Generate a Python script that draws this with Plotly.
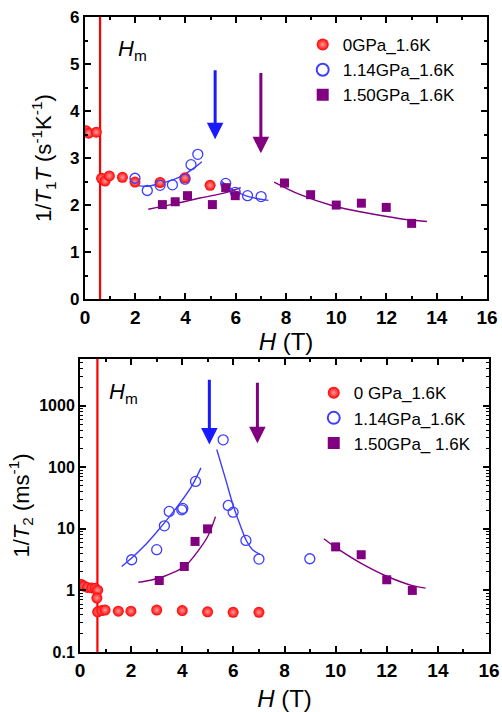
import numpy as np
import plotly.graph_objects as go

# ---------------- data: top panel (1/T1T) ----------------
H_T1_0 = [0.05, 0.15, 0.45, 0.66, 0.80, 0.97, 1.49, 1.99, 2.99, 3.98, 4.98]
V_T1_0 = [3.58, 3.53, 3.55, 2.57, 2.51, 2.62, 2.59, 2.49, 2.48, 2.58, 2.42]

H_T1_114 = [1.99, 2.48, 2.99, 3.48, 3.98, 4.22, 4.49, 5.60, 5.98, 6.47, 7.01]
V_T1_114 = [2.57, 2.31, 2.42, 2.43, 2.55, 2.86, 3.08, 2.46, 2.27, 2.20, 2.18]

H_T1_150 = [3.08, 3.59, 4.08, 5.07, 5.60, 5.98, 7.94, 8.98, 10.0, 11.0, 11.99, 13.0]
V_T1_150 = [2.01, 2.07, 2.20, 2.01, 2.37, 2.20, 2.47, 2.22, 2.00, 2.04, 1.95, 1.61]

FIT_T1_114A_H = [2.06, 2.46, 2.99, 3.52, 3.98, 4.32, 4.65]
FIT_T1_114A_V = [2.42, 2.40, 2.46, 2.54, 2.66, 2.78, 2.92]
FIT_T1_114B_H = [5.42, 5.91, 6.44, 7.30]
FIT_T1_114B_V = [2.51, 2.32, 2.19, 2.10]
FIT_T1_150A_H = [2.52, 3.52, 4.58, 5.64, 6.20]
FIT_T1_150A_V = [1.91, 2.02, 2.15, 2.27, 2.37]
FIT_T1_150B_H = [7.53, 8.57, 9.89, 11.22, 12.55, 13.61]
FIT_T1_150B_V = [2.49, 2.22, 1.98, 1.83, 1.71, 1.65]

HM_TOP = 0.60
ARROW_TOP_BLUE = (5.18, 4.90, 3.40)    # H, tail value, head value
ARROW_TOP_PURPLE = (7.00, 4.84, 3.10)

# ---------------- data: bottom panel (1/T2) ----------------
H_T2_0 = [0.05, 0.15, 0.29, 0.46, 0.59, 0.69, 0.66, 0.69, 0.85, 0.98, 1.50, 1.99, 3.0, 4.0, 4.99, 5.99, 7.0]
V_T2_0 = [1.25, 1.18, 1.12, 1.10, 1.08, 1.01, 0.75, 0.45, 0.47, 0.48, 0.46, 0.46, 0.48, 0.47, 0.45, 0.44, 0.44]

H_T2_114 = [2.02, 3.0, 3.3, 3.49, 3.98, 4.02, 4.52, 5.6, 5.8, 5.99, 6.49, 7.0, 8.99]
V_T2_114 = [3.15, 4.6, 11.2, 19.2, 20.4, 21.5, 59, 280, 24, 18.7, 6.5, 3.23, 3.27]

H_T2_150 = [3.1, 4.08, 4.5, 4.99, 10.0, 11.0, 12.0, 13.0]
V_T2_150 = [1.45, 2.45, 6.25, 10.0, 5.1, 3.8, 1.49, 1.0]

FIT_T2_114A_H = [1.63, 2.0, 2.5, 3.0, 3.5, 4.0, 4.4, 4.73]
FIT_T2_114A_V = [2.45, 3.3, 5.2, 8.9, 15.8, 29.5, 52.0, 98.0]
FIT_T2_114B_H = [5.35, 5.70, 6.00, 6.30, 6.52, 6.75, 7.04]
FIT_T2_114B_V = [195.0, 63.0, 23.4, 10.5, 6.3, 4.6, 3.85]
FIT_T2_150A_H = [2.28, 2.8, 3.3, 3.9, 4.2, 4.56, 5.0, 5.3]
FIT_T2_150A_V = [1.36, 1.48, 1.70, 2.19, 2.69, 4.07, 7.6, 15.8]
FIT_T2_150B_H = [9.54, 10.0, 11.0, 12.0, 13.0, 13.52]
FIT_T2_150B_V = [6.9, 5.0, 2.75, 1.70, 1.20, 1.09]

HM_BOT = 0.68
ARROW_BOT_BLUE = (5.06, 2800.0, 235.0)
ARROW_BOT_PURPLE = (6.94, 2500.0, 245.0)

LEG_TOP = ["0GPa_1.6K", "1.14GPa_1.6K", "1.50GPa_1.6K"]
LEG_BOT = ["0 GPa_1.6K", "1.14GPa_1.6K", "1.50GPa_ 1.6K"]

RED = "#ff0000"
BLUE = "#3d3dff"
ARROW_BLUE = "#1a1aff"
PURPLE = "#800080"
FONT = "Liberation Sans"

fig = go.Figure()


def add_panel(xa, ya, h0, v0, h1, v1, h2, v2, fits, hm, yspan, legend, names):
    fig.add_trace(go.Scatter(x=[hm, hm], y=yspan, mode="lines", xaxis=xa, yaxis=ya,
                             line=dict(color=RED, width=2.2), showlegend=False, hoverinfo="skip"))
    for fh, fv, col in fits:
        fig.add_trace(go.Scatter(x=fh, y=fv, mode="lines", xaxis=xa, yaxis=ya,
                                 line=dict(color=col, width=1.4, shape="spline"),
                                 showlegend=False, hoverinfo="skip"))
    fig.add_trace(go.Scatter(x=h0, y=v0, mode="markers", name=names[0], xaxis=xa, yaxis=ya,
                             legend=legend,
                             marker=dict(symbol="circle", size=11, color=RED,
                                         gradient=dict(type="radial", color="#ff9a9a"),
                                         line=dict(width=0))))
    fig.add_trace(go.Scatter(x=h1, y=v1, mode="markers", name=names[1], xaxis=xa, yaxis=ya,
                             legend=legend,
                             marker=dict(symbol="circle-open", size=10, color=BLUE,
                                         line=dict(width=1.3, color=BLUE))))
    fig.add_trace(go.Scatter(x=h2, y=v2, mode="markers", name=names[2], xaxis=xa, yaxis=ya,
                             legend=legend,
                             marker=dict(symbol="square", size=9, color=PURPLE,
                                         line=dict(width=0))))


add_panel("x", "y", H_T1_0, V_T1_0, H_T1_114, V_T1_114, H_T1_150, V_T1_150,
          [(FIT_T1_114A_H, FIT_T1_114A_V, BLUE), (FIT_T1_114B_H, FIT_T1_114B_V, BLUE),
           (FIT_T1_150A_H, FIT_T1_150A_V, PURPLE), (FIT_T1_150B_H, FIT_T1_150B_V, PURPLE)],
          HM_TOP, [0, 6], "legend", LEG_TOP)
add_panel("x2", "y2", H_T2_0, V_T2_0, H_T2_114, V_T2_114, H_T2_150, V_T2_150,
          [(FIT_T2_114A_H, FIT_T2_114A_V, BLUE), (FIT_T2_114B_H, FIT_T2_114B_V, BLUE),
           (FIT_T2_150A_H, FIT_T2_150A_V, PURPLE), (FIT_T2_150B_H, FIT_T2_150B_V, PURPLE)],
          HM_BOT, [0.1, 6000], "legend2", LEG_BOT)

axis_common = dict(showline=True, linewidth=2, linecolor="black", mirror="ticks",
                   ticks="inside", tickwidth=2, ticklen=6, tickcolor="black",
                   showgrid=False, zeroline=False, automargin=False)
xtick_font = dict(family=FONT, size=19, color="black", weight="bold")

fig.update_layout(
    width=502, height=712, margin=dict(l=0, r=0, t=0, b=0, autoexpand=False),
    paper_bgcolor="white", plot_bgcolor="white",
    font=dict(family=FONT, color="black"),
    xaxis=dict(domain=[0.1693, 0.9701], anchor="y", range=[0, 16], dtick=2,
               tickfont=xtick_font,
               minor=dict(dtick=1, ticks="inside", ticklen=3, tickwidth=1.5, tickcolor="black"),
               title=dict(text="<i>H</i> (T)", font=dict(family=FONT, size=24), standoff=0),
               **axis_common),
    yaxis=dict(domain=[0.580, 0.976], anchor="x", range=[0, 6], dtick=1,
               tickfont=dict(family=FONT, size=17, color="black", weight="bold"),
               minor=dict(dtick=0.5, ticks="inside", ticklen=3, tickwidth=1.5, tickcolor="black"),
               title=dict(text="1/<i>T</i><sub>1</sub><i>T</i> (s<sup>-1</sup>K<sup>-1</sup>)",
                          font=dict(family=FONT, size=22), standoff=12),
               **axis_common),
    xaxis2=dict(domain=[0.1594, 0.9741], anchor="y2", range=[0, 16], dtick=2,
                tickfont=xtick_font,
                minor=dict(dtick=1, ticks="inside", ticklen=3, tickwidth=1.5, tickcolor="black"),
                title=dict(text="<i>H</i> (T)", font=dict(family=FONT, size=24), standoff=10),
                **axis_common),
    yaxis2=dict(domain=[0.0843, 0.4958], anchor="x2", type="log", range=[-1, 3.76], dtick=1,
                exponentformat="none",
                tickfont=dict(family=FONT, size=16, color="black", weight="bold"),
                minor=dict(dtick="D1", ticks="inside", ticklen=3, tickwidth=1, tickcolor="black"),
                title=dict(text="1/<i>T</i><sub>2</sub> (ms<sup>-1</sup>)",
                           font=dict(family=FONT, size=22), standoff=4),
                **axis_common),
    legend=dict(x=0.603, y=0.962, xanchor="left", yanchor="top", bgcolor="rgba(0,0,0,0)",
                font=dict(family=FONT, size=17), itemsizing="constant", tracegroupgap=0),
    legend2=dict(x=0.625, y=0.473, xanchor="left", yanchor="top", bgcolor="rgba(0,0,0,0)",
                 font=dict(family=FONT, size=17), itemsizing="constant", tracegroupgap=0),
)

annotations = []
for (h, tail, head), col, xr, yr, lg in [
    (ARROW_TOP_BLUE, ARROW_BLUE, "x", "y", False),
    (ARROW_TOP_PURPLE, PURPLE, "x", "y", False),
    (ARROW_BOT_BLUE, ARROW_BLUE, "x2", "y2", True),
    (ARROW_BOT_PURPLE, PURPLE, "x2", "y2", True),
]:
    f = np.log10 if lg else (lambda v: v)
    annotations.append(dict(x=h, y=f(head), ax=h, ay=f(tail), xref=xr, yref=yr,
                            axref=xr, ayref=yr, text="", showarrow=True,
                            arrowhead=2, arrowsize=1.1, arrowwidth=3, arrowcolor=col))

annotations.append(dict(x=1.25, y=5.3, xref="x", yref="y", xanchor="left", yanchor="middle",
                        text="<i>H</i><sub>m</sub>", showarrow=False,
                        font=dict(family=FONT, size=22, color="black")))
annotations.append(dict(x=1.05, y=3.2, xref="x2", yref="y2", xanchor="left", yanchor="middle",
                        text="<i>H</i><sub>m</sub>", showarrow=False,
                        font=dict(family=FONT, size=22, color="black")))
fig.update_layout(annotations=annotations)

fig.write_html("out.html", config={"displayModeBar": False},
               post_script="document.body.style.margin='0';")
